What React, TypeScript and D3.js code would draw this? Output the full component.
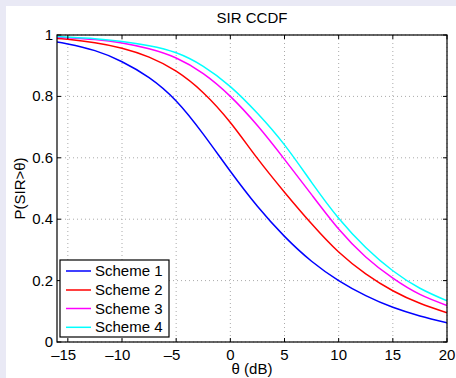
import React from "react";
import * as d3 from "d3";

const theta = [-16, -15, -12.5, -10, -7.5, -5, -2.5, 0, 2.5, 5, 7.5, 10, 12.5, 15, 17.5, 20];
const scheme1 = [0.977, 0.971, 0.949, 0.913, 0.861, 0.785, 0.677, 0.556, 0.442, 0.344, 0.263, 0.2, 0.151, 0.113, 0.085, 0.063];
const scheme2 = [0.989, 0.986, 0.975, 0.957, 0.928, 0.882, 0.812, 0.715, 0.598, 0.488, 0.385, 0.293, 0.222, 0.167, 0.126, 0.095];
const scheme3 = [0.993, 0.991, 0.985, 0.974, 0.955, 0.925, 0.874, 0.8, 0.705, 0.595, 0.48, 0.368, 0.277, 0.208, 0.155, 0.119];
const scheme4 = [0.995, 0.993, 0.988, 0.979, 0.965, 0.942, 0.898, 0.832, 0.745, 0.642, 0.52, 0.403, 0.308, 0.232, 0.175, 0.134];
const seriesNames = ["Scheme 1", "Scheme 2", "Scheme 3", "Scheme 4"];
const seriesColors = ["#0000ff", "#ff0000", "#ff00ff", "#00ffff"];
const xTicks = [-15, -10, -5, 0, 5, 10, 15, 20];
const yTicks = [0, 0.2, 0.4, 0.6, 0.8, 1];
const yTickLabels = ["0", "0.2", "0.4", "0.6", "0.8", "1"];

const W = 456, H = 378;
const L = 57, R = 447, T = 35, B = 342;
const FS = 15;
const FONT = "'Liberation Sans', Arial, Helvetica, sans-serif";

export default function App() {
  const x = d3.scaleLinear().domain([-16, 20]).range([L, R]);
  const y = d3.scaleLinear().domain([0, 1]).range([B, T]);
  const allSeries = [scheme1, scheme2, scheme3, scheme4];
  const line = d3
    .line<number>()
    .x((_, i) => x(theta[i]))
    .y((d) => y(d))
    .curve(d3.curveNatural);

  const legX = 60, legY = 260, legW = 109, legH = 77;
  const rowY = [271, 290, 308.5, 327.3];

  return (
    <svg width={W} height={H} style={{ position: "absolute", left: 0, top: 0 }} fontFamily={FONT}>
      <rect x={0} y={0} width={W} height={H} fill="#e9e9f5" />
      <rect x={6} y={6} width={W - 6} height={H - 6} fill="#ffffff" />
      <text x={(L + R) / 2} y={23} textAnchor="middle" fontSize={FS}>SIR CCDF</text>
      {/* grid */}
      {xTicks.map((t) => (
        <line key={"gx" + t} x1={x(t)} x2={x(t)} y1={T} y2={B} stroke="#aaaaaa" strokeWidth={1} strokeDasharray="1,3" />
      ))}
      {yTicks.map((t) => (
        <line key={"gy" + t} x1={L} x2={R} y1={y(t)} y2={y(t)} stroke="#aaaaaa" strokeWidth={1} strokeDasharray="1,3" />
      ))}
      <defs>
        <clipPath id="clip">
          <rect x={L} y={T} width={R - L} height={B - T} />
        </clipPath>
      </defs>
      {/* curves */}
      <g clipPath="url(#clip)">
        {allSeries.map((s, i) => (
          <path key={i} d={line(s) || ""} fill="none" stroke={seriesColors[i]} strokeWidth={1.5} />
        ))}
      </g>
      {/* ticks */}
      {xTicks.map((t) => {
        const digits = String(Math.abs(t));
        const half = (digits.length * 0.556 * FS) / 2;
        return (
          <g key={"tx" + t}>
            <line x1={x(t)} x2={x(t)} y1={B} y2={B - 4} stroke="#000" />
            <line x1={x(t)} x2={x(t)} y1={T} y2={T + 4} stroke="#000" />
            <text x={x(t)} y={360} textAnchor="middle" fontSize={FS}>{digits}</text>
            {t < 0 && (
              <text x={x(t) - half} y={360} textAnchor="end" fontSize={FS}>{"\u2013"}</text>
            )}
          </g>
        );
      })}
      {yTicks.map((t, i) => (
        <g key={"ty" + t}>
          <line x1={L} x2={L + 4} y1={y(t)} y2={y(t)} stroke="#000" />
          <line x1={R} x2={R - 4} y1={y(t)} y2={y(t)} stroke="#000" />
          <text x={53} y={y(t) + 5} textAnchor="end" fontSize={FS}>{yTickLabels[i]}</text>
        </g>
      ))}
      <rect x={L} y={T} width={R - L} height={B - T} fill="none" stroke="#000" strokeWidth={1.2} />
      <text x={(L + R) / 2} y={374} textAnchor="middle" fontSize={FS}>θ (dB)</text>
      <text transform={`translate(25,${(T + B) / 2}) rotate(-90)`} textAnchor="middle" fontSize={FS}>P(SIR&gt;θ)</text>
      {/* legend */}
      <rect x={legX} y={legY} width={legW} height={legH} fill="#fff" stroke="#000" strokeWidth={1.2} />
      {seriesNames.map((n, i) => (
        <g key={n}>
          <line x1={66} x2={91} y1={rowY[i]} y2={rowY[i]} stroke={seriesColors[i]} strokeWidth={1.5} />
          <text x={95} y={rowY[i] + 5} fontSize={FS}>{n}</text>
        </g>
      ))}
    </svg>
  );
}
